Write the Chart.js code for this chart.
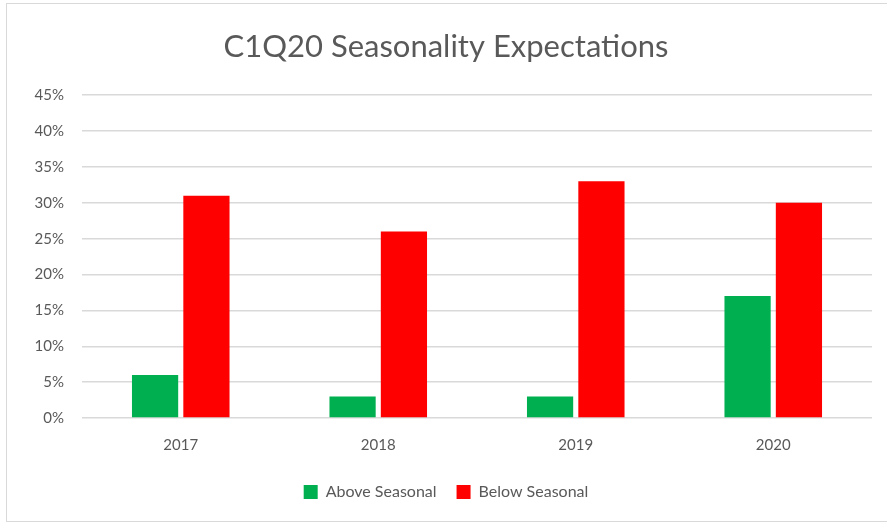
<!DOCTYPE html>
<html>
<head>
<meta charset="utf-8">
<script src="https://cdn.jsdelivr.net/npm/chart.js@4.4.0/dist/chart.umd.min.js"></script>
<style>
    html, body { margin: 0; padding: 0; background: #fff; }
    #frame {
        position: absolute;
        left: 6px;
        top: 3px;
        width: 900px;
        height: 519px;
        border: 1px solid #d9d9d9;
        box-sizing: border-box;
    }
    #wrap {
        position: absolute;
        left: 0;
        top: 0;
        width: 887px;
        height: 527px;
    }
</style>
</head>
<body>
<div id="frame"></div>
<div id="wrap"><canvas id="seasonChart"></canvas></div>
<script>
"use strict";

// Years and share of respondents (%) per expectation
const years = ["2017", "2018", "2019", "2020"];
const aboveSeasonal = [6, 3, 3, 17];
const belowSeasonal = [31, 26, 33, 30];
const yTicks = [0, 5, 10, 15, 20, 25, 30, 35, 40, 45];

const textGrey = "#595959";
const fontName = "Lato, 'Open Sans', sans-serif";

new Chart("seasonChart", {
    type: "bar",
    data: {
        labels: years,
        datasets: [{
            label: "Above Seasonal",
            backgroundColor: "#00B050",
            data: aboveSeasonal
        }, {
            label: "Below Seasonal",
            backgroundColor: "#FF0000",
            data: belowSeasonal
        }]
    },
    options: {
        responsive: true,
        maintainAspectRatio: false,
        animation: false,
        datasets: {
            bar: {
                barPercentage: 0.9,
                categoryPercentage: 0.52
            }
        },
        layout: {
            padding: { left: 20, right: 15, top: 28, bottom: 17 }
        },
        plugins: {
            title: {
                display: true,
                text: "C1Q20 Seasonality Expectations",
                color: textGrey,
                font: { family: fontName, size: 31, weight: "normal" },
                padding: { top: 0, bottom: 30 }
            },
            legend: {
                position: "bottom",
                labels: {
                    color: textGrey,
                    boxWidth: 14,
                    boxHeight: 14,
                    padding: 20,
                    font: { family: fontName, size: 16 }
                }
            },
            tooltip: { enabled: false }
        },
        scales: {
            x: {
                grid: { display: false },
                border: { display: false },
                ticks: {
                    color: textGrey,
                    padding: 10,
                    font: { family: fontName, size: 15 }
                }
            },
            y: {
                min: 0,
                max: 45,
                afterBuildTicks: function (scale) {
                    scale.ticks = yTicks.map(v => ({ value: v }));
                },
                afterFit: function (scale) {
                    scale.width = 62;
                },
                grid: { color: "#d9d9d9", lineWidth: 1.5, drawTicks: false },
                border: { display: false },
                ticks: {
                    color: textGrey,
                    padding: 18,
                    font: { family: fontName, size: 15 },
                    callback: v => v + "%"
                }
            }
        }
    }
});
</script>
</body>
</html>
